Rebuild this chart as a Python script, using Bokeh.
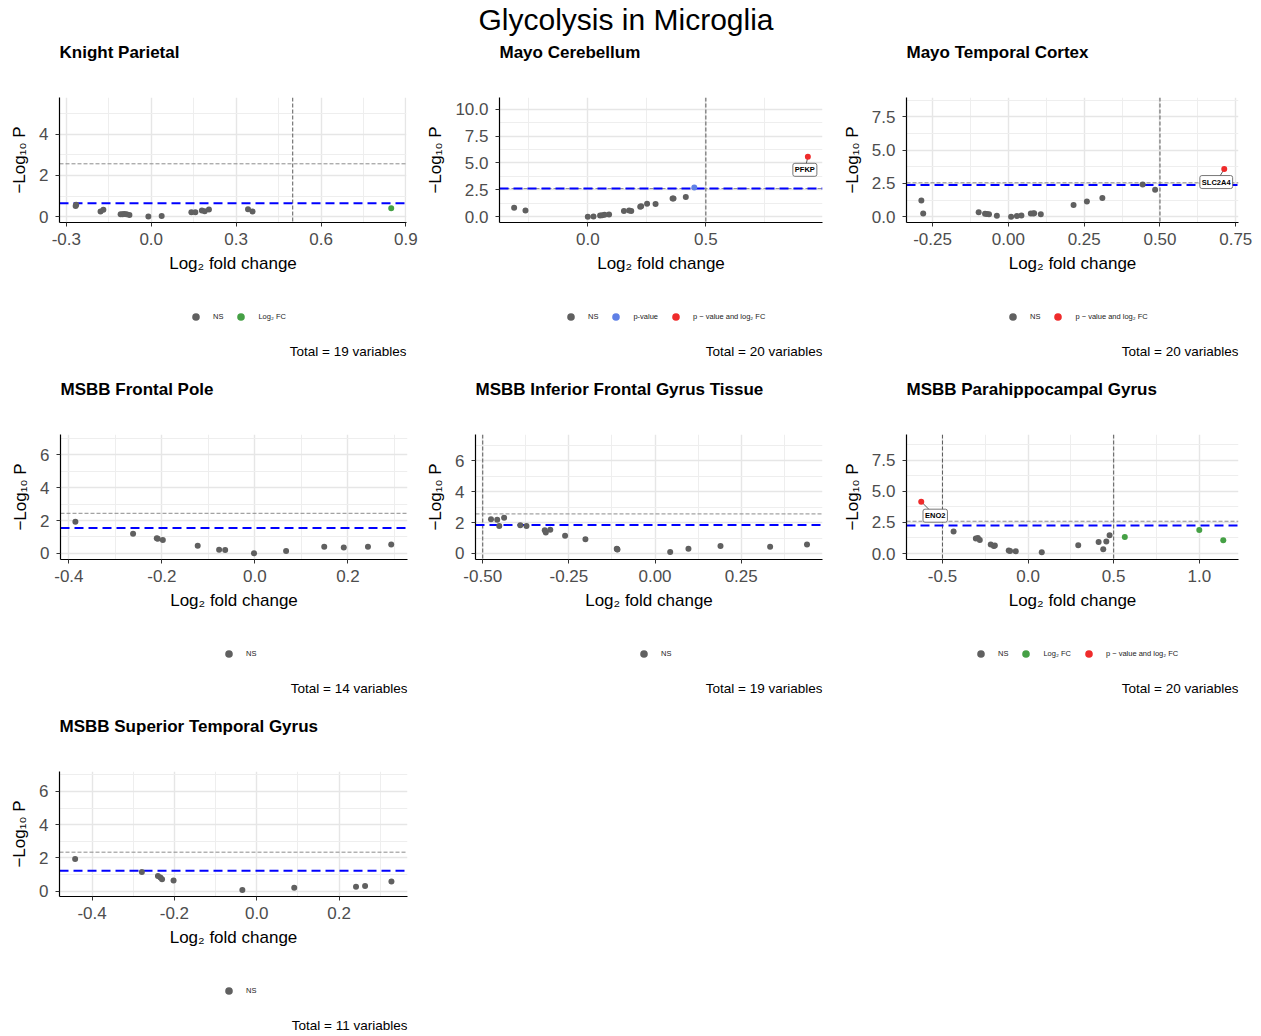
from bokeh.plotting import figure
from bokeh.models import (Range1d, FixedTicker, Span, Label, Legend, LegendItem, Title,
                          ColumnDataSource)
from bokeh.layouts import column, row
from bokeh.embed import file_html
from bokeh.resources import INLINE

FONT = "Liberation Sans"

MAIN_TITLE = "Glycolysis in Microglia"
PANEL_TITLES = ["Knight Parietal", "Mayo Cerebellum", "Mayo Temporal Cortex",
                "MSBB Frontal Pole", "MSBB Inferior Frontal Gyrus Tissue",
                "MSBB Parahippocampal Gyrus", "MSBB Superior Temporal Gyrus"]
TOTALS = [19, 20, 20, 14, 19, 20, 11]

CAT_ORDER = ["NS", "FC", "P", "PFC"]
CAT_LABELS = {"NS": "NS", "FC": "Log₂ FC", "P": "p-value", "PFC": "p − value and log₂ FC"}

# Knight Parietal
KP_LFC = [-0.267, -0.265, -0.179, -0.169, -0.108, -0.101, -0.095, -0.087, -0.077, -0.010,
          0.037, 0.142, 0.156, 0.179, 0.189, 0.204, 0.342, 0.358, 0.848]
KP_NLP = [0.51, 0.57, 0.25, 0.33, 0.11, 0.11, 0.12, 0.11, 0.07, 0.00,
          0.03, 0.21, 0.21, 0.30, 0.26, 0.34, 0.36, 0.25, 0.41]
KP_CAT = ["NS"] * 18 + ["FC"]

# Mayo Cerebellum
MC_LFC = [-0.312, -0.264, 0.000, 0.024, 0.052, 0.061, 0.071, 0.090, 0.153, 0.175,
          0.184, 0.222, 0.226, 0.251, 0.287, 0.359, 0.363, 0.415, 0.451, 0.932]
MC_NLP = [0.84, 0.59, 0.00, 0.03, 0.12, 0.15, 0.19, 0.22, 0.53, 0.59,
          0.53, 0.93, 0.99, 1.21, 1.18, 1.70, 1.70, 1.83, 2.72, 5.57]
MC_CAT = ["NS"] * 18 + ["P", "PFC"]

# Mayo Temporal Cortex
MT_LFC = [-0.287, -0.281, -0.098, -0.077, -0.071, -0.064, -0.038, 0.009, 0.028, 0.043,
          0.074, 0.082, 0.085, 0.107, 0.215, 0.259, 0.310, 0.443, 0.484, 0.712]
MT_NLP = [1.23, 0.25, 0.33, 0.23, 0.20, 0.18, 0.08, 0.00, 0.05, 0.10,
          0.25, 0.25, 0.27, 0.18, 0.88, 1.15, 1.40, 2.43, 2.03, 3.58]
MT_CAT = ["NS"] * 19 + ["PFC"]

# MSBB Frontal Pole
FP_LFC = [-0.386, -0.262, -0.211, -0.209, -0.198, -0.123, -0.077, -0.064, -0.002, 0.067,
          0.149, 0.191, 0.243, 0.293]
FP_NLP = [1.92, 1.19, 0.91, 0.89, 0.81, 0.46, 0.22, 0.20, 0.00, 0.14,
          0.40, 0.36, 0.40, 0.53]
FP_CAT = ["NS"] * 14

# MSBB Inferior Frontal Gyrus Tissue
IF_LFC = [-0.476, -0.458, -0.452, -0.438, -0.391, -0.373, -0.320, -0.317, -0.304, -0.261,
          -0.202, -0.111, -0.110, -0.109, 0.044, 0.097, 0.190, 0.334, 0.441]
IF_NLP = [2.22, 2.19, 1.78, 2.32, 1.83, 1.78, 1.51, 1.35, 1.53, 1.14,
          0.92, 0.30, 0.28, 0.26, 0.09, 0.30, 0.49, 0.43, 0.58]
IF_CAT = ["NS"] * 19

# MSBB Parahippocampal Gyrus
PH_LFC = [-0.624, -0.435, -0.305, -0.293, -0.282, -0.218, -0.200, -0.194, -0.113, -0.105,
          -0.072, 0.080, 0.293, 0.412, 0.439, 0.457, 0.476, 0.565, 1.000, 1.140]
PH_NLP = [4.16, 1.76, 1.20, 1.25, 1.09, 0.72, 0.61, 0.64, 0.24, 0.21,
          0.19, 0.11, 0.67, 0.93, 0.35, 0.96, 1.47, 1.33, 1.89, 1.07]
PH_CAT = ["PFC"] + ["NS"] * 16 + ["FC"] * 3

# MSBB Superior Temporal Gyrus
ST_LFC = [-0.441, -0.279, -0.240, -0.234, -0.230, -0.202, -0.035, 0.091, 0.241, 0.263, 0.327]
ST_NLP = [1.93, 1.14, 0.91, 0.81, 0.71, 0.63, 0.06, 0.20, 0.26, 0.30, 0.57]
ST_CAT = ["NS"] * 11

PANEL_DATA = [(KP_LFC, KP_NLP, KP_CAT), (MC_LFC, MC_NLP, MC_CAT), (MT_LFC, MT_NLP, MT_CAT),
              (FP_LFC, FP_NLP, FP_CAT), (IF_LFC, IF_NLP, IF_CAT), (PH_LFC, PH_NLP, PH_CAT),
              (ST_LFC, ST_NLP, ST_CAT)]

# cutoffs
P_CUTOFF_NLP = [2.57, 2.62, 2.55, 2.44, 2.56, 2.59, 2.34]
BLUE_NLP = [0.65, 2.63, 2.38, 1.54, 1.85, 2.24, 1.22]
FC_CUTOFFS = [-0.5, 0.5]

# labelled genes
GENE_PANEL = [1, 2, 5]
GENE_INDEX = [19, 19, 0]
GENE_NAME = ["PFKP", "SLC2A4", "ENO2"]

# axes
XLIM = [(-0.324, 0.902), (-0.374, 0.994), (-0.336, 0.759), (-0.418, 0.328),
        (-0.521, 0.486), (-0.71, 1.229), (-0.479, 0.366)]
YLIM = [(-0.29, 5.8), (-0.53, 11.08), (-0.43, 8.95), (-0.38, 7.25),
        (-0.39, 7.70), (-0.48, 9.55), (-0.33, 7.2)]
XTICKS = [[-0.3, 0.0, 0.3, 0.6, 0.9], [0.0, 0.5], [-0.25, 0.0, 0.25, 0.5, 0.75],
          [-0.4, -0.2, 0.0, 0.2], [-0.5, -0.25, 0.0, 0.25], [-0.5, 0.0, 0.5, 1.0],
          [-0.4, -0.2, 0.0, 0.2]]
XDEC = [1, 1, 2, 1, 2, 1, 1]
YTICKS = [[0, 2, 4], [0, 2.5, 5, 7.5, 10], [0, 2.5, 5, 7.5], [0, 2, 4, 6],
          [0, 2, 4, 6], [0, 2.5, 5, 7.5], [0, 2, 4, 6]]
YDEC = [0, 1, 1, 0, 0, 1, 0]

# ---------------- styling -----------------
COLORS = {"NS": "#606060", "FC": "#45a045", "P": "#5f80e6", "PFC": "#ef2b2b"}
GENE_OFFSETS = [(-3, -13), (-8, -13), (14, -14)]
FIG_W = [423, 415, 415, 423, 415, 415, 423]
MB_LEFT = [59, 76, 68, 60, 52, 68, 59]
MB_RIGHT = [17, 16, 15, 16, 16, 15, 16]
MB_TOP = 59
FRAME_H = 125
MB_BOTTOM = 60
LEG_H = [93, 93, 93, 93, 93, 93, 80]
LEGEND_X = [127, 62, 97, 159, 159, 65, 160]
LEG_GLYPH = 19


def minor_of(ticks):
    step = ticks[1] - ticks[0]
    ext = [ticks[0] - step] + list(ticks) + [ticks[-1] + step]
    return [(a + b) / 2 for a, b in zip(ext[:-1], ext[1:])]


def make_panel(i):
    lfc, nlp, cat = PANEL_DATA[i]
    fw = FIG_W[i] - MB_LEFT[i] - MB_RIGHT[i]
    p = figure(width=FIG_W[i], height=MB_TOP + FRAME_H + MB_BOTTOM,
               min_border_left=MB_LEFT[i], min_border_right=MB_RIGHT[i],
               min_border_top=MB_TOP, min_border_bottom=MB_BOTTOM,
               x_range=Range1d(*XLIM[i]), y_range=Range1d(*YLIM[i]),
               toolbar_location=None, output_backend="svg", title=None)
    p.outline_line_color = None
    p.background_fill_color = "white"
    p.border_fill_color = "white"

    p.add_layout(Title(text=PANEL_TITLES[i] + "\n", align="left", vertical_align="bottom",
                       standoff=0, text_line_height=1.85, text_font=FONT,
                       text_font_size="17px", text_font_style="bold", text_color="black"),
                 "above")

    xt = FixedTicker(ticks=XTICKS[i], minor_ticks=minor_of(XTICKS[i]))
    yt = FixedTicker(ticks=YTICKS[i], minor_ticks=minor_of(YTICKS[i]))
    p.xaxis.ticker = xt
    p.yaxis.ticker = yt
    p.xgrid.ticker = xt
    p.ygrid.ticker = yt
    p.xaxis.major_label_overrides = {t: f"{t:.{XDEC[i]}f}" for t in XTICKS[i]}
    p.yaxis.major_label_overrides = {t: f"{t:.{YDEC[i]}f}" for t in YTICKS[i]}
    p.xaxis.axis_label = "Log₂ fold change"
    p.yaxis.axis_label = "−Log₁₀ P"
    for ax in (p.xaxis, p.yaxis):
        ax.axis_line_color = "black"
        ax.axis_line_width = 1.2
        ax.major_tick_line_color = "#333333"
        ax.major_tick_out = 4
        ax.major_tick_in = 0
        ax.minor_tick_line_color = None
        ax.major_label_text_font = FONT
        ax.major_label_text_font_size = "17px"
        ax.major_label_text_color = "#4d4d4d"
        ax.axis_label_text_font = FONT
        ax.axis_label_text_font_size = "17px"
        ax.axis_label_text_font_style = "normal"
        ax.axis_label_text_color = "black"
    p.xaxis.major_label_standoff = 6
    p.xaxis.axis_label_standoff = 6
    p.yaxis.major_label_standoff = 7
    p.yaxis.axis_label_standoff = 7

    for g in (p.xgrid, p.ygrid):
        g.grid_line_color = "#E6E6E6"
        g.grid_line_width = 1.4
        g.minor_grid_line_color = "#EEEEEE"
        g.minor_grid_line_width = 1.0

    x0, x1 = XLIM[i]
    for v in FC_CUTOFFS:
        if x0 < v < x1:
            p.add_layout(Span(location=v, dimension="height", line_color="#5a5a5a",
                              line_dash="4 2", line_width=1, level="underlay"))
    p.add_layout(Span(location=P_CUTOFF_NLP[i], dimension="width", line_color="#8c8c8c",
                      line_dash="4 2", line_width=1, level="underlay"))
    p.add_layout(Span(location=BLUE_NLP[i], dimension="width", line_color="blue",
                      line_dash="9 5", line_width=2, level="underlay"))

    xpp = (XLIM[i][1] - XLIM[i][0]) / fw
    ypp = (YLIM[i][1] - YLIM[i][0]) / FRAME_H
    labels = []
    for gp, gi, gn, (dx, dy) in zip(GENE_PANEL, GENE_INDEX, GENE_NAME, GENE_OFFSETS):
        if gp != i:
            continue
        gx, gy = lfc[gi], nlp[gi]
        p.segment(x0=[gx], y0=[gy], x1=[gx + dx * xpp], y1=[gy + dy * ypp],
                  line_color="#333333", line_width=0.8)
        labels.append(Label(x=gx, y=gy, x_offset=dx, y_offset=dy, text=gn,
                            text_font=FONT, text_font_size="7.5px", text_font_style="bold",
                            text_align="center", text_baseline="middle", text_color="black",
                            background_fill_color="white", border_line_color="#555555",
                            border_line_width=0.8, padding=2, border_radius=2))

    present = []
    for c in CAT_ORDER:
        xs = [x for x, k in zip(lfc, cat) if k == c]
        ys = [y for y, k in zip(nlp, cat) if k == c]
        if not xs:
            continue
        p.scatter(x=xs, y=ys, size=6, color=COLORS[c], line_color=None)
        present.append((c, xs, ys))

    for lb in labels:
        p.add_layout(lb)

    # legend + caption strip below the panel (frame aligned with the panel above);
    # its y range lies below every value, so the key renderers only feed the legend swatches
    lf = figure(width=FIG_W[i], height=LEG_H[i], x_range=Range1d(*XLIM[i]),
                y_range=Range1d(-3, -2),
                toolbar_location=None, output_backend="svg", min_border=0,
                x_axis_type=None, y_axis_type=None, title=None)
    lf.outline_line_color = None
    lf.grid.visible = False
    items = []
    for c, xs, ys in present:
        src = ColumnDataSource(dict(x=xs, y=ys))
        r = lf.scatter(x="x", y="y", source=src, size=6, color=COLORS[c], line_color=None)
        items.append(LegendItem(label=CAT_LABELS[c], renderers=[r]))
    legend = Legend(items=items, orientation="horizontal",
                    location=(LEGEND_X[i], LEG_H[i] - 34 - LEG_GLYPH / 2),
                    label_text_font=FONT, label_text_font_size="7.5px",
                    label_text_color="#222222",
                    glyph_width=LEG_GLYPH, glyph_height=LEG_GLYPH, label_height=10,
                    label_width=1, label_standoff=8, spacing=8, padding=0, margin=0,
                    border_line_color=None, background_fill_alpha=0)
    lf.add_layout(legend)
    lf.add_layout(Label(x=fw, y=LEG_H[i] - 69, x_units="screen", y_units="screen",
                        text=f"Total = {TOTALS[i]} variables", text_align="right",
                        text_baseline="middle", text_font=FONT, text_font_size="13.5px",
                        text_color="black"))
    return column(p, lf, spacing=0)


head = figure(width=1245, height=38, x_range=Range1d(0, 1), y_range=Range1d(0, 1),
              toolbar_location=None, output_backend="svg", min_border=0,
              x_axis_type=None, y_axis_type=None, title=None)
head.outline_line_color = None
head.grid.visible = False
head.add_layout(Label(x=0.5, y=0.5, text=MAIN_TITLE, x_offset=3,
                      text_align="center", text_baseline="middle", text_font=FONT,
                      text_font_size="30px", text_color="black"))

panels = [make_panel(i) for i in range(7)]
layout = column(head,
                row(panels[0], panels[1], panels[2], spacing=0),
                row(panels[3], panels[4], panels[5], spacing=0),
                row(panels[6], spacing=0),
                spacing=0)

open("out.html", "w").write(file_html(layout, INLINE, title=MAIN_TITLE))
